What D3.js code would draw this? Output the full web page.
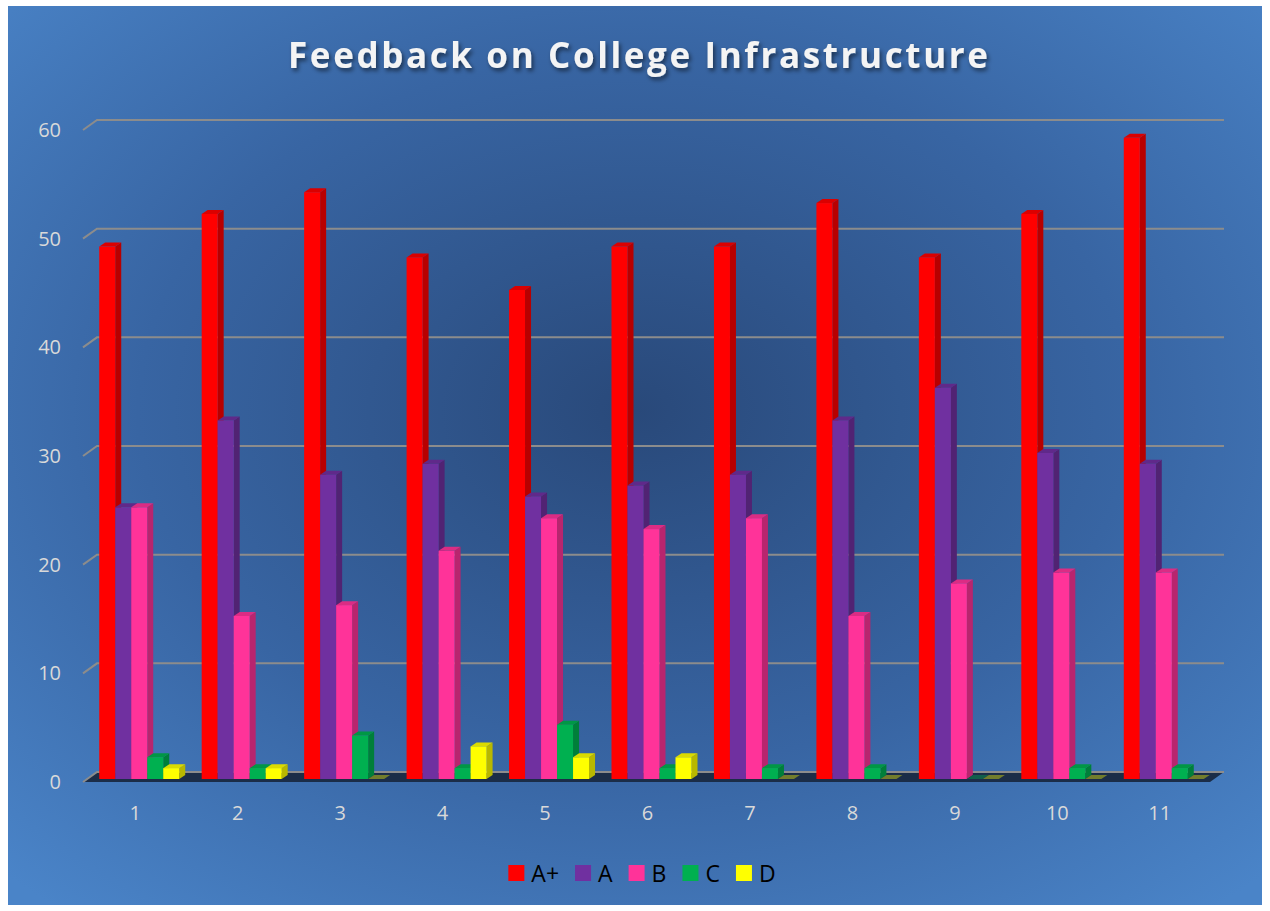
<!DOCTYPE html>
<html>
<head>
<meta charset="utf-8">
<script src="https://cdn.jsdelivr.net/npm/d3@7"></script>
<style>
  html, body { margin: 0; padding: 0; background: #ffffff; }
  svg { display: block; }
</style>
</head>
<body>
<svg id="chart" width="1270" height="911"></svg>
<script>
const categories = ["1","2","3","4","5","6","7","8","9","10","11"];
const seriesNames = ["A+","A","B","C","D"];
const seriesColors = ["#ff0000","#7030a0","#ff3399","#00b050","#ffff00"];
const valuesAplus = [49,52,54,48,45,49,49,53,48,52,59];
const valuesA     = [25,33,28,29,26,27,28,33,36,30,29];
const valuesB     = [25,15,16,21,24,23,24,15,18,19,19];
const valuesC     = [2,1,4,1,5,1,1,1,0,1,1];
const valuesD     = [1,1,0,3,2,2,0,0,0,0,0];
const yTicks = [0,10,20,30,40,50,60];
const titleText = "Feedback on College Infrastructure";

const seriesValues = [valuesAplus, valuesA, valuesB, valuesC, valuesD];

const svg = d3.select("#chart");
const defs = svg.append("defs");

const rg = defs.append("radialGradient").attr("id","bg")
  .attr("cx","50%").attr("cy","45%").attr("r","72%");
rg.append("stop").attr("offset","0%").attr("stop-color","#29497a");
rg.append("stop").attr("offset","55%").attr("stop-color","#3865a3");
rg.append("stop").attr("offset","100%").attr("stop-color","#4a84c8");

const sh = defs.append("filter").attr("id","tshadow").attr("x","-10%").attr("y","-30%").attr("width","120%").attr("height","160%");
sh.append("feDropShadow").attr("dx",2).attr("dy",3).attr("stdDeviation",2).attr("flood-color","#000").attr("flood-opacity",0.5);

svg.append("rect").attr("x",8).attr("y",6).attr("width",1254).attr("height",899).attr("fill","url(#bg)");

const frontLeft = 83, frontRight = 1210;
const depthX = 14, depthY = -10;
const y = d3.scaleLinear().domain([0,60]).range([782,130]);
const x = d3.scaleBand().domain(categories).range([frontLeft, frontRight]).padding(0);
const groupW = 80;
const xi = d3.scaleBand().domain(seriesNames).range([0, groupW]).padding(0);
const barShiftX = 5, barShiftY = -3;
const bdx = 6, bdy = -4;

svg.append("path")
  .attr("d", `M${frontLeft},${y(0)} L${frontRight},${y(0)} L${frontRight+depthX},${y(0)+depthY} L${frontLeft+depthX},${y(0)+depthY} Z`)
  .attr("fill","#1b2d48");

const grid = svg.append("g");
yTicks.forEach(t => {
  const yf = y(t), yb = y(t) + depthY;
  grid.append("path")
    .attr("d", `M${frontLeft},${yf} L${frontLeft+depthX},${yb} L${frontRight+depthX},${yb}`)
    .attr("fill","none").attr("stroke","#8c8c8c").attr("stroke-width",2);
});

svg.append("g").selectAll("text").data(yTicks).join("text")
  .attr("x", 61).attr("y", d => y(d)).attr("dy","0.35em")
  .attr("text-anchor","end")
  .attr("font-family","Open Sans, sans-serif").attr("font-size",20)
  .attr("fill","#d9d9d9").text(d => d);

svg.append("g").selectAll("text").data(categories).join("text")
  .attr("x", d => x(d) + x.bandwidth()/2 + 1).attr("y", 813).attr("dy","0.35em")
  .attr("text-anchor","middle")
  .attr("font-family","Open Sans, sans-serif").attr("font-size",20)
  .attr("fill","#d9d9d9").text(d => d);

function shade(c, k) { const r = d3.rgb(c); return d3.rgb(r.r*k, r.g*k, r.b*k).formatHex(); }
const bars = svg.append("g");
categories.forEach((cat, ci) => {
  const gx = x(cat) + (x.bandwidth() - groupW)/2 + barShiftX;
  seriesNames.forEach((s, si) => {
    const v = seriesValues[si][ci];
    const col = seriesColors[si];
    const x0 = gx + xi(s), w = xi.bandwidth();
    const yb = y(0) + barShiftY;
    const yt = y(v) + barShiftY;
    const g = bars.append("g");
    if (v === 0) {
      g.append("path")
        .attr("d", `M${x0},${yb} L${x0+w},${yb} L${x0+w+bdx},${yb+bdy} L${x0+bdx},${yb+bdy} Z`)
        .attr("fill", d3.interpolateRgb(col, "#1b2d48")(0.62));
      return;
    }
    g.append("path")
      .attr("d", `M${x0+w},${yb} L${x0+w+bdx},${yb+bdy} L${x0+w+bdx},${yt+bdy} L${x0+w},${yt} Z`)
      .attr("fill", shade(col, 0.72));
    g.append("path")
      .attr("d", `M${x0},${yt} L${x0+w},${yt} L${x0+w+bdx},${yt+bdy} L${x0+bdx},${yt+bdy} Z`)
      .attr("fill", shade(col, 0.86));
    g.append("rect").attr("x", x0).attr("y", yt).attr("width", w).attr("height", yb - yt).attr("fill", col);
  });
});

svg.append("text")
  .attr("x", 638).attr("y", 68).attr("text-anchor","middle")
  .attr("font-family","Open Sans, sans-serif").attr("font-weight","bold").attr("font-size",35)
  .attr("textLength", 700).attr("lengthAdjust","spacing")
  .attr("fill","#f4f4f4").attr("filter","url(#tshadow)")
  .text(titleText);

const legend = svg.append("g");
const items = [];
seriesNames.forEach((s, i) => {
  const it = legend.append("g");
  it.append("rect").attr("x", 0).attr("y", -8).attr("width", 16).attr("height", 16).attr("fill", seriesColors[i]);
  const t = it.append("text").attr("x", 23).attr("y", 1).attr("dy","0.35em")
    .attr("font-family","Open Sans, sans-serif").attr("font-size",23).attr("fill","#000").text(s);
  const w = 23 + t.node().getComputedTextLength();
  items.push({it, w});
});
const gap = 16;
const total = d3.sum(items, d => d.w) + gap*(items.length-1);
let lx = 642 - total/2;
items.forEach(d => { d.it.attr("transform", `translate(${lx},873)`); lx += d.w + gap; });
</script>
</body>
</html>
